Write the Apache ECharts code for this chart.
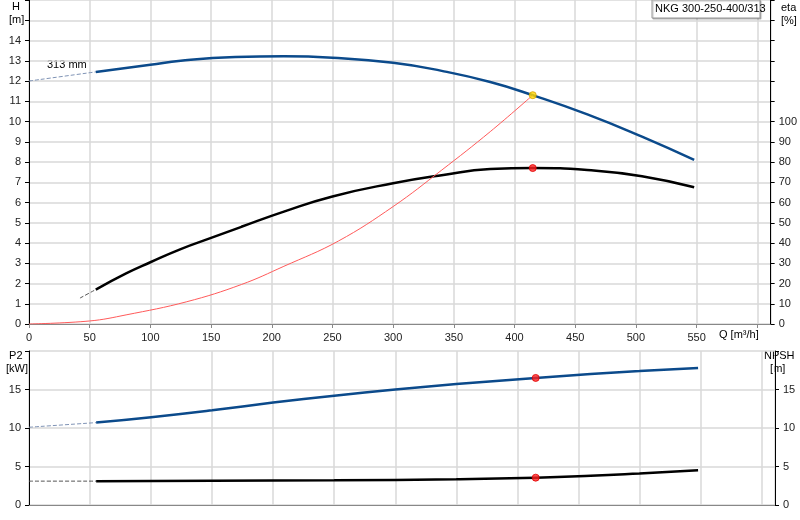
<!DOCTYPE html>
<html><head><meta charset="utf-8">
<script src="https://cdn.jsdelivr.net/npm/echarts@6/dist/echarts.min.js"></script>
<style>html,body{margin:0;background:#fff}#c{width:800px;height:520px}</style></head>
<body><div id="c"></div>
<script>
const hDash=[[0,12],[55,12.45]];
const hCurve=[[55,12.45],[100,12.8],[125,13.0],[170,13.18],[210,13.22],[250,13.15],[300,12.9],[340,12.5],[380,11.95],[415,11.3],[460,10.35],[505,9.25],[548,8.1]];
const etaDash=[[42,12.8],[55,17]];
const etaCurve=[[55,17],[80,25],[100,30.5],[125,37],[150,42.5],[175,48],[210,55.5],[250,63],[300,69.5],[340,73.5],[380,76.5],[415,77],[460,76],[505,73],[548,67.5]];
const sysCurve=[[0,0],[50,0.15],[80,0.45],[130,1.1],[175,1.95],[210,2.85],[255,4.1],[300,5.8],[340,7.6],[380,9.5],[415,11.3]];
const p2Dash=[[0,10.1],[55,10.7]];
const p2Curve=[[55,10.7],[100,11.4],[150,12.3],[200,13.3],[250,14.2],[300,15.0],[350,15.7],[415,16.5],[460,17.0],[500,17.4],[548,17.8]];
const npshDash=[[0,3.1],[55,3.1]];
const npshCurve=[[55,3.1],[150,3.15],[250,3.2],[350,3.35],[415,3.55],[460,3.8],[500,4.1],[548,4.5]];
const duty={q:415,h:11.3,eta:77,p2:16.5,npsh:3.55};

const chart=echarts.init(document.getElementById('c'));
const lab={color:'#222',fontSize:11,fontFamily:'Liberation Sans'};
const split={show:true,lineStyle:{color:'#d9d9d9',width:1.5}};
function xa(gi,showLab){return {type:'value',gridIndex:gi,min:0,max:611,interval:50,
  axisLine:{onZero:false,lineStyle:{color:'#888'}},axisTick:{show:showLab,length:4,lineStyle:{color:'#888'}},
  axisLabel:{show:showLab,...lab,formatter:v=>v>550?'':v,showMaxLabel:false},splitLine:split};}
function ya(gi,max,interval,limit,pos,showSplit){return {type:'value',gridIndex:gi,min:0,max:max,interval:interval,position:pos,
  axisLine:{show:true,lineStyle:{color:'#000'}},axisTick:{show:true,length:4,lineStyle:{color:'#000'},interval:(i,v)=>v<=limit},
  axisLabel:{...lab,formatter:v=>v>limit?'':v,showMaxLabel:true},splitLine:showSplit?split:{show:false}};}
const ln=(d,xi,yi,color,w,type,sm)=>({type:'line',xAxisIndex:xi,yAxisIndex:yi,data:d,smooth:sm===undefined?true:sm,symbol:'none',lineStyle:{color,width:w,type:type||'solid'},z:3});
const dot=(x,y,xi,yi,color)=>({type:'scatter',xAxisIndex:xi,yAxisIndex:yi,data:[[x,y]],symbolSize:7,itemStyle:{color,borderColor:color==='#ffd700'?'#d4a000':'#e00000',borderWidth:1},z:5});
chart.setOption({
 animation:false,
 grid:[{left:29,right:25,top:0,bottom:196},{left:29,right:25,top:351,bottom:15}],
 xAxis:[xa(0,true),xa(1,false)],
 yAxis:[ya(0,16,1,14,'left',true),ya(0,160,10,100,'right',false),ya(1,20,5,15,'left',true),ya(1,20,5,15,'right',false)],
 series:[
  ln(hDash,0,0,'#7f93b5',1,'dashed'),
  ln(hCurve,0,0,'#0b4a8b',2.5),
  ln(etaDash,0,1,'#555',1,'dashed'),
  ln(etaCurve,0,1,'#000',2.5),
  ln(sysCurve,0,0,'#ff5a5a',1,'solid',0.4),
  dot(duty.q,duty.h,0,0,'#ffd700'),
  dot(duty.q,duty.eta,0,1,'#ff2020'),
  ln(p2Dash,1,2,'#7f93b5',1,'dashed'),
  ln(p2Curve,1,2,'#0b4a8b',2.5),
  ln(npshDash,1,3,'#555',1,'dashed'),
  ln(npshCurve,1,3,'#000',2.5),
  dot(duty.q,duty.p2,1,2,'#ff2020'),
  dot(duty.q,duty.npsh,1,3,'#ff2020')
 ],
 graphic:[
  {type:'text',left:9,top:0,style:{text:' H\n[m]',...lab,lineHeight:13,font:'11px Liberation Sans'}},
  {type:'text',left:781,top:1,style:{text:'eta\n[%]',...lab,lineHeight:13,font:'11px Liberation Sans'}},
  {type:'text',left:719,top:329,style:{text:'Q [m³/h]',...lab,font:'11px Liberation Sans'}},
  {type:'text',left:6,top:349,style:{text:' P2\n[kW]',...lab,lineHeight:13,font:'11px Liberation Sans'}},
  {type:'text',left:764,top:349,style:{text:'NPSH\n  [m]',...lab,lineHeight:13,font:'11px Liberation Sans'}},
  {type:'text',left:47,top:59,style:{text:'313 mm',...lab,font:'11px Liberation Sans'}},
  {type:'rect',shape:{x:652,y:0,width:108,height:18},style:{fill:'#fff',stroke:'#999',lineWidth:1,shadowColor:'rgba(0,0,0,0.25)',shadowOffsetX:1,shadowOffsetY:1,shadowBlur:1},z:10},
  {type:'text',left:655,top:3,style:{text:'NKG 300-250-400/313',...lab,font:'11px Liberation Sans'},z:11}
 ]
});
</script></body></html>
